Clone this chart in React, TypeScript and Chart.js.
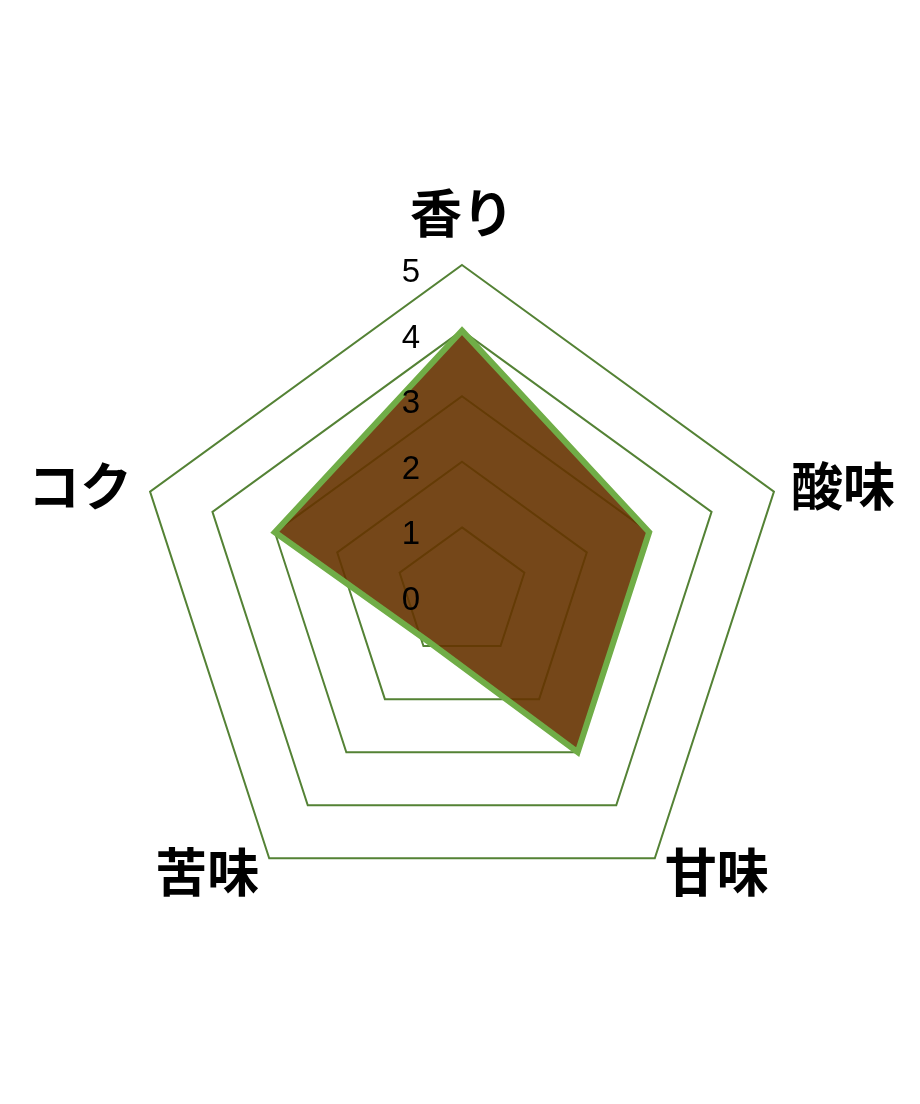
import React, { useEffect, useRef } from 'react';
import { Chart, registerables } from 'chart.js';

Chart.register(...registerables);

const tasteLabels: string[] = ['香り', '酸味', '甘味', '苦味', 'コク'];
const tasteValues: number[] = [4, 3, 3, 0.9, 3];
const tickValues: number[] = [0, 1, 2, 3, 4, 5];

// tick numbers sit left of the vertical axis, so draw them ourselves
const sideTicks = {
  id: 'sideTicks',
  afterDatasetsDraw(chart: Chart) {
    const scale: any = chart.scales.r;
    const ctx = chart.ctx;
    ctx.save();
    ctx.font = '33px "Liberation Sans", Arial, sans-serif';
    ctx.fillStyle = '#000';
    ctx.textAlign = 'center';
    ctx.textBaseline = 'middle';
    tickValues.forEach(v => {
      const d = scale.getDistanceFromCenterForValue(v);
      ctx.fillText(String(v), scale.xCenter - 51, scale.yCenter - d + 8);
    });
    ctx.restore();
  }
};

// category names placed next to the outer vertices
const outerLabels = {
  id: 'outerLabels',
  afterDraw(chart: Chart) {
    const scale: any = chart.scales.r;
    const ctx = chart.ctx;
    const r = scale.drawingArea;
    ctx.save();
    ctx.font = 'bold 52px "Noto Sans CJK JP", sans-serif';
    ctx.fillStyle = '#000';
    ctx.textBaseline = 'middle';
    tasteLabels.forEach((label, i) => {
      let gap = 20;
      let align: CanvasTextAlign = 'center';
      if (i === 0) gap = 52;
      else if (i === 1) { align = 'left'; gap = 18; }
      else if (i === 2) { align = 'left'; gap = 17; }
      else if (i === 3) { align = 'right'; gap = 17; }
      else { align = 'right'; gap = 19; }
      const p = scale.getPointPosition(i, r + gap);
      ctx.textAlign = align;
      ctx.fillText(label, p.x, p.y);
    });
    ctx.restore();
  }
};

const App: React.FC = () => {
  const canvasRef = useRef<HTMLCanvasElement | null>(null);

  useEffect(() => {
    if (!canvasRef.current) return;
    const chart = new Chart(canvasRef.current, {
      type: 'radar',
      data: {
        labels: tasteLabels,
        datasets: [
          {
            data: tasteValues,
            backgroundColor: 'rgba(102, 51, 0, 0.9)',
            borderColor: '#70ad47',
            borderWidth: 6,
            pointRadius: 0,
            pointHoverRadius: 0
          }
        ]
      },
      options: {
        animation: false,
        responsive: true,
        maintainAspectRatio: false,
        layout: { padding: { top: 257, bottom: 175, left: 125, right: 121 } },
        plugins: {
          legend: { display: false },
          tooltip: { enabled: false }
        },
        scales: {
          r: {
            min: 0,
            max: 5,
            ticks: { stepSize: 1, display: false },
            grid: { color: '#548235', lineWidth: 2 },
            angleLines: { display: false },
            pointLabels: { display: false }
          }
        }
      },
      plugins: [sideTicks, outerLabels]
    });
    return () => chart.destroy();
  }, []);

  return (
    <div style={{ width: 904, height: 1088 }}>
      <canvas ref={canvasRef}></canvas>
    </div>
  );
};

export default App;
